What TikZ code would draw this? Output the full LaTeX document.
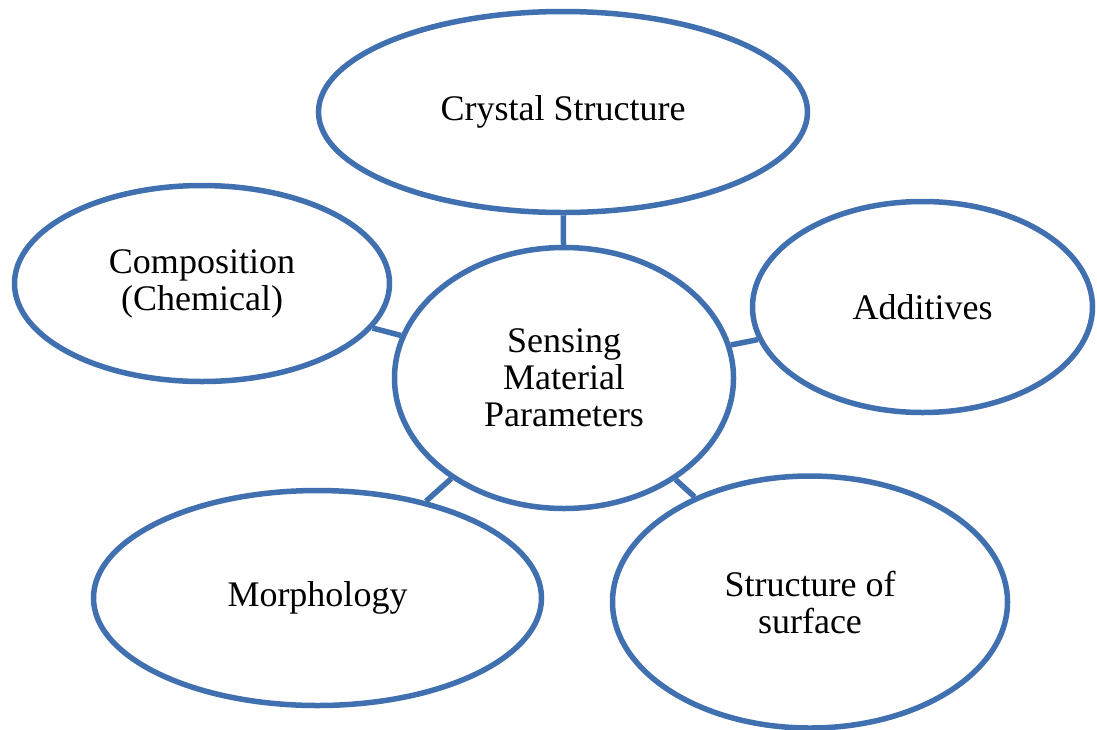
\documentclass[tikz,border=0pt]{standalone}
\usepackage{fontspec}
\setmainfont{Liberation Serif}
\usetikzlibrary{shapes.geometric}
\definecolor{ringblue}{RGB}{64,112,176}
\tikzset{
  bubble/.style={ellipse, draw=ringblue, line width=5.5pt, inner sep=0pt, align=center,
    font=\fontsize{36}{37}\selectfont, text=black},
  link/.style={draw=ringblue, line width=5.5pt}
}
\begin{document}
\begin{tikzpicture}[x=1pt,y=-1pt]
\useasboundingbox (0,0) rectangle (1097,729);
\node[bubble, minimum width=489pt, minimum height=201pt] (crystal) at (563,112) {Crystal Structure};
\node[bubble, minimum width=375pt, minimum height=196pt] (comp) at (202,283.5) {Composition\\(Chemical)};
\node[bubble, minimum width=340pt, minimum height=211pt] (add) at (922.5,307) {Additives};
\node[bubble, minimum width=339pt, minimum height=261pt] (center) at (564,378) {Sensing\\Material\\Parameters};
\node[bubble, minimum width=448pt, minimum height=215pt] (morph) at (317.5,598) {Morphology};
\node[bubble, minimum width=395pt, minimum height=252pt] (surf) at (810,602) {Structure of\\surface};
\path[link] (crystal) -- (center);
\path[link] (comp) -- (center);
\path[link] (add) -- (center);
\path[link] (morph) -- (center);
\path[link] (surf) -- (center);
\end{tikzpicture}
\end{document}
